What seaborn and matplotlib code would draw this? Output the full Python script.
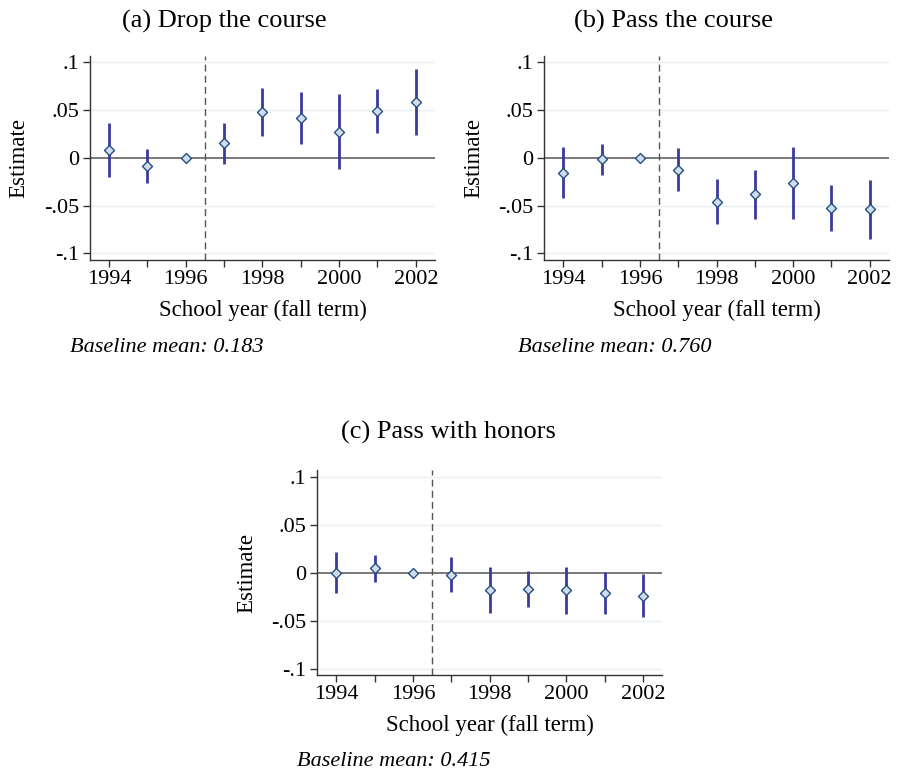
import numpy as np
import pandas as pd
import matplotlib
matplotlib.use("Agg")
import matplotlib.pyplot as plt
import seaborn as sns

years = [1994, 1995, 1996, 1997, 1998, 1999, 2000, 2001, 2002]

drop_est = [0.0084, -0.0084, 0.0, 0.0153, 0.048, 0.042, 0.027, 0.049, 0.0585]
drop_lo = [-0.020, -0.026, np.nan, -0.006, 0.023, 0.015, -0.012, 0.026, 0.024]
drop_hi = [0.037, 0.009, np.nan, 0.036, 0.073, 0.0686, 0.067, 0.072, 0.093]

pass_est = [-0.016, -0.0014, 0.0, -0.0125, -0.046, -0.038, -0.0265, -0.0526, -0.054]
pass_lo = [-0.0425, -0.018, np.nan, -0.035, -0.0697, -0.064, -0.064, -0.077, -0.0847]
pass_hi = [0.011, 0.0146, np.nan, 0.0098, -0.022, -0.0125, 0.011, -0.028, -0.0237]

hon_est = [0.0, 0.0045, 0.0, -0.0024, -0.018, -0.0175, -0.018, -0.0217, -0.024]
hon_lo = [-0.021, -0.0094, np.nan, -0.0206, -0.042, -0.036, -0.043, -0.0434, -0.0465]
hon_hi = [0.0213, 0.0185, np.nan, 0.016, 0.0063, 0.0017, 0.0063, 0.0003, -0.001]

titles = ["(a) Drop the course", "(b) Pass the course", "(c) Pass with honors"]
baselines = ["Baseline mean: 0.183", "Baseline mean: 0.760", "Baseline mean: 0.415"]
yticks = [-0.1, -0.05, 0, 0.05, 0.1]
ytick_labels = ["-.1", "-.05", "0", ".05", ".1"]
xticks_major = [1994, 1996, 1998, 2000, 2002]

sns.set_theme(style="white")
plt.rcParams["font.family"] = ["Liberation Serif", "DejaVu Serif"]
plt.rcParams["text.color"] = "black"
plt.rcParams["axes.labelcolor"] = "black"
plt.rcParams["xtick.color"] = "black"
plt.rcParams["ytick.color"] = "black"

W, H = 898, 774
fig = plt.figure(figsize=(W / 100, H / 100), dpi=100)
fig.patch.set_facecolor("white")

BAR = "#3a3a9e"
MFACE = "#d3dcee"
MEDGE = "#24507f"
GRID = "#e8eff2"

def rect(left, top, right, bottom):
    return [left / W, 1 - bottom / H, (right - left) / W, (bottom - top) / H]

panels = [
    (rect(90, 55.7, 435, 260), drop_est, drop_lo, drop_hi, (224.5, 21), (70, 347)),
    (rect(544.3, 55.7, 888.7, 260), pass_est, pass_lo, pass_hi, (673.5, 21), (518, 347)),
    (rect(317.3, 470, 662.3, 675.3), hon_est, hon_lo, hon_hi, (448, 432), (297, 761)),
]

for i, (r, est, lo, hi, tpos, bpos) in enumerate(panels):
    ax = fig.add_axes(r)
    df = pd.DataFrame({"year": years, "est": est, "lo": lo, "hi": hi})
    for y in [-0.1, -0.05, 0.05, 0.1]:
        ax.axhline(y, color=GRID, lw=1.0, zorder=0)
    ax.axhline(0, color="#555555", lw=1.1, zorder=1)
    ax.axvline(1996.5, color="#555555", lw=1.0, ls=(0, (5, 3)), zorder=1)
    d = df.dropna()
    ax.vlines(d["year"], d["lo"], d["hi"], color=BAR, lw=2.0, zorder=2)
    sns.scatterplot(data=df, x="year", y="est", marker="D", s=26, color=MFACE,
                    edgecolor=MEDGE, linewidth=1.0, zorder=3, ax=ax, legend=False)
    ax.set_xlim(1993.5, 2002.5)
    ax.set_ylim(-0.107, 0.107)
    ax.set_xticks(years, minor=True)
    ax.set_xticks(xticks_major)
    ax.set_xticklabels([str(x) for x in xticks_major], fontsize=16)
    ax.set_yticks(yticks)
    ax.set_yticklabels(ytick_labels, fontsize=16)
    ax.tick_params(axis="both", which="both", direction="out", length=5, width=1,
                   color="#333333", labelcolor="black", pad=2, bottom=True, left=True)
    ax.tick_params(axis="y", pad=3)
    for s in ["top", "right"]:
        ax.spines[s].set_visible(False)
    for s in ["left", "bottom"]:
        ax.spines[s].set_color("#333333")
        ax.spines[s].set_linewidth(1.0)
    ax.set_xlabel("School year (fall term)", fontsize=16.5, labelpad=8)
    ax.set_ylabel("Estimate", fontsize=16.5, labelpad=10)
    ax.set_facecolor("white")
    fig.text(tpos[0] / W, 1 - tpos[1] / H, titles[i], ha="center", va="center", fontsize=19)
    fig.text(bpos[0] / W, 1 - bpos[1] / H, baselines[i], ha="left", va="center",
             fontsize=16, style="italic")

fig.savefig("out.png", dpi=100)
